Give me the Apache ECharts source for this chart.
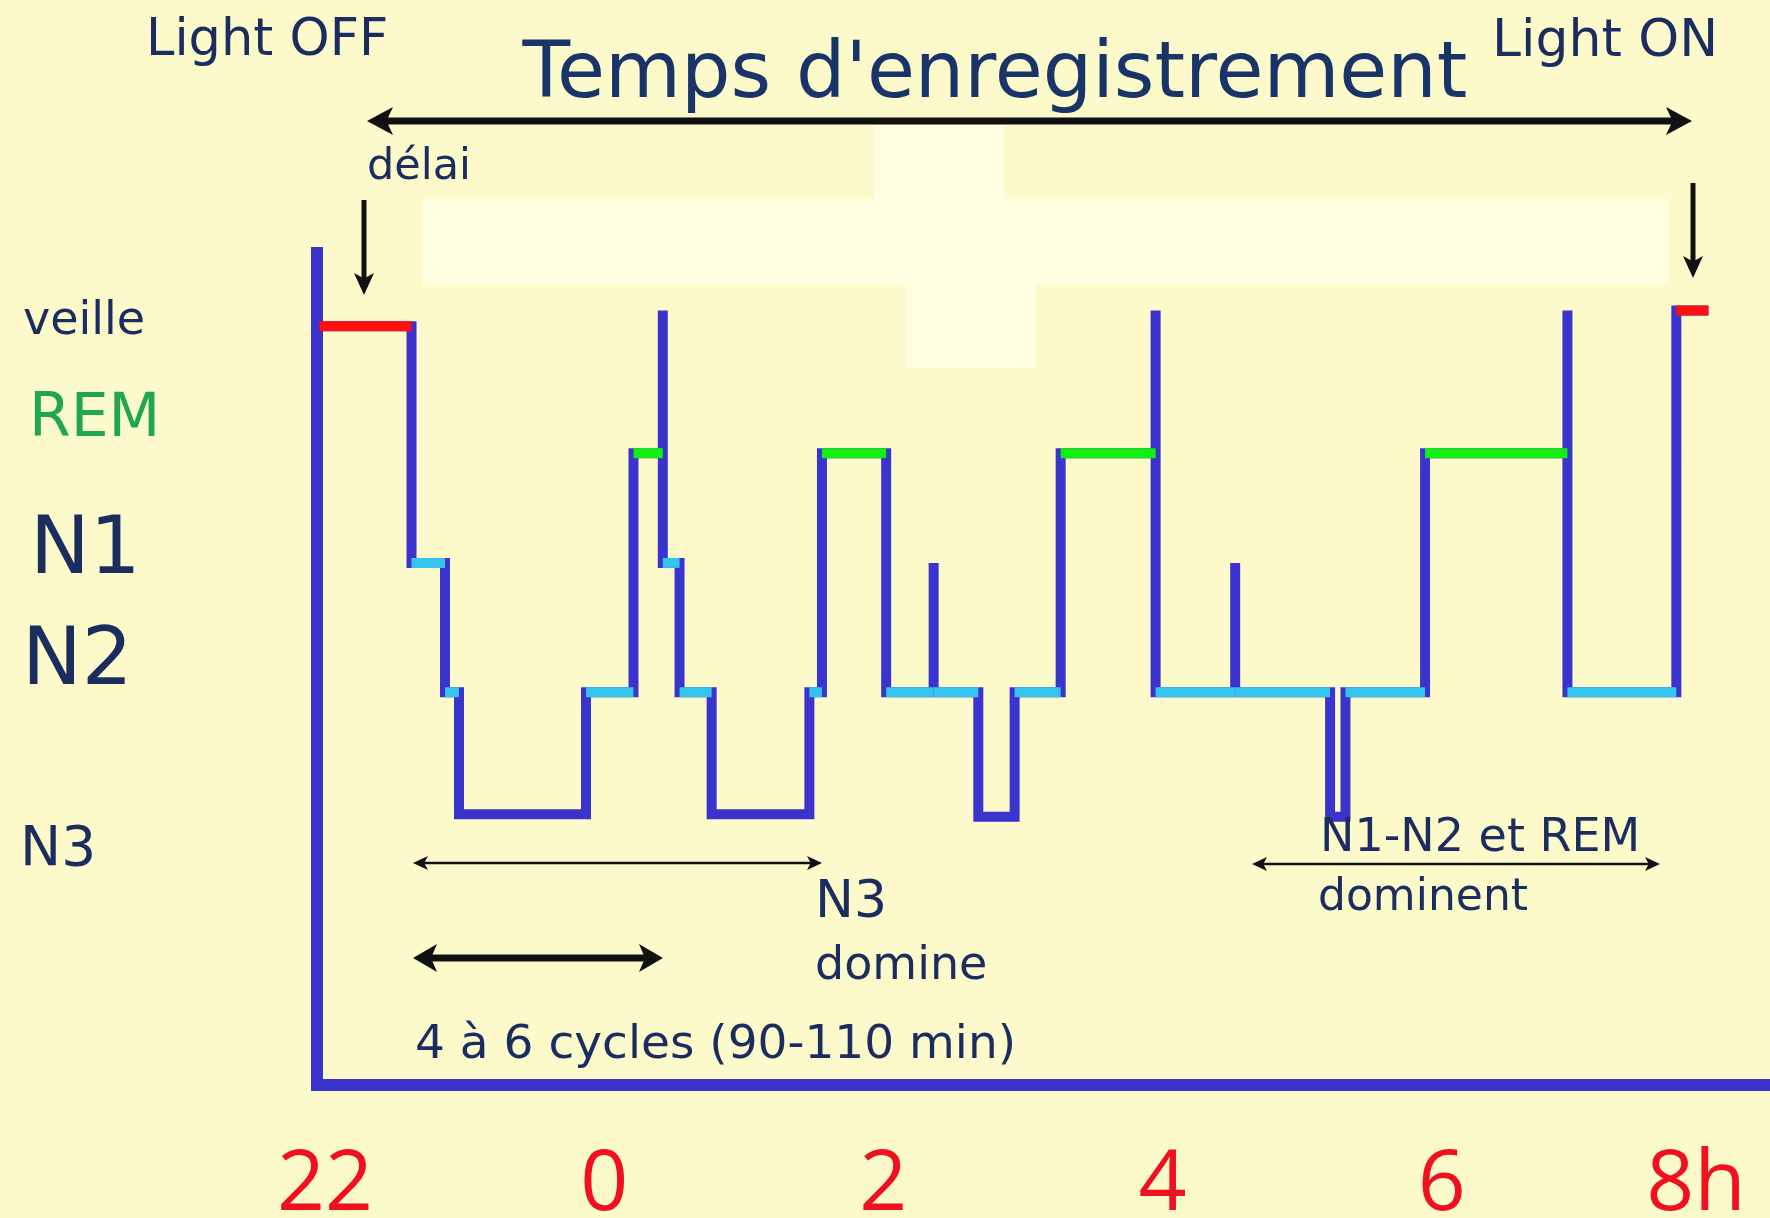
<!DOCTYPE html>
<html><head><meta charset="utf-8">
<script src="https://cdn.jsdelivr.net/npm/echarts@6/dist/echarts.min.js"></script>
<style>html,body{margin:0;padding:0;background:#fcfacb}#c{width:1770px;height:1218px}</style>
</head><body><div id="c"></div>
<script>
// x: clock hours (24 = 0h, 32 = 8h)
const hourTicks = [22, 24, 26, 28, 30, 32];
const hourLabels = ['22', '0', '2', '4', '6', '8h'];
// y: stage levels (N3 = 0, N2 = 1, N1 ≈ 2.06, REM ≈ 2.96, veille = 4; arousal spikes ≈ 4.13)
const stageNames = ['veille', 'REM', 'N1', 'N2', 'N3'];
const segBounds = [21.96, 22.62, 22.86, 22.96, 23.87, 24.21, 24.42, 24.42, 24.54, 24.77, 25.47, 25.56, 26.02, 26.36, 26.36, 26.68, 26.94, 27.27, 27.95, 27.95, 28.52, 28.52, 29.20, 29.31, 29.88, 30.90, 30.90, 31.68, 31.91];
const segStages = ['W','N1','N2','N3','N2','REM','W','N1','N2','N3','N2','REM','N2','N1','N2','N3','N2','REM','W','N2','N1','N2','N3','N2','REM','W','N2','W'];
const segLevels = [4.0, 2.06, 1.0, 0, 1.0, 2.96, 4.13, 2.06, 1.0, 0, 1.0, 2.96, 1.0, 2.06, 1.0, -0.02, 1.0, 2.96, 4.13, 1.0, 2.06, 1.0, -0.02, 1.0, 2.96, 4.13, 1.0, 4.13];

const BLUE = '#3a33cc';
const NAVY = '#1b2c5f';
const stageColors = { W: '#ff1010', REM: '#12ee12', N1: '#35c4f0', N2: '#35c4f0', N3: null };

const trace = [];
for (let i = 0; i < segStages.length; i++) {
  trace.push([segBounds[i], segLevels[i]]);
  trace.push([segBounds[i + 1], segLevels[i]]);
}
const overlays = [];
const overlayColors = [];
for (let i = 0; i < segStages.length; i++) {
  const c = stageColors[segStages[i]];
  if (c && segBounds[i + 1] > segBounds[i]) {
    overlays.push([segBounds[i], segBounds[i + 1], segLevels[i]]);
    overlayColors.push(c);
  }
}

function txt(text, x, y, size, opts) {
  opts = opts || {};
  return { type: 'text', x: x, y: y, z: 10, style: {
    text: text, fontSize: size, fontFamily: opts.font || 'DejaVu Sans', fill: opts.color || NAVY,
    align: opts.align || 'left', verticalAlign: 'middle' } };
}
function hArrow(x1, x2, y, lw, hl, hh) {
  return [
    { type: 'line', z: 10, shape: { x1: x1 + hl * 0.7, y1: y, x2: x2 - hl * 0.7, y2: y }, style: { stroke: '#111', lineWidth: lw } },
    { type: 'polygon', z: 10, shape: { points: [[x1, y], [x1 + hl, y - hh], [x1 + hl * 0.75, y], [x1 + hl, y + hh]] }, style: { fill: '#111' } },
    { type: 'polygon', z: 10, shape: { points: [[x2, y], [x2 - hl, y - hh], [x2 - hl * 0.75, y], [x2 - hl, y + hh]] }, style: { fill: '#111' } }
  ];
}
function vArrow(x, y1, y2, lw, hl, hh) {
  return [
    { type: 'line', z: 10, shape: { x1: x, y1: y1, x2: x, y2: y2 - hl * 0.7 }, style: { stroke: '#111', lineWidth: lw } },
    { type: 'polygon', z: 10, shape: { points: [[x, y2], [x - hh, y2 - hl], [x, y2 - hl * 0.75], [x + hh, y2 - hl]] }, style: { fill: '#111' } }
  ];
}

const graphics = [
  { type: 'rect', z: 1, shape: { x: 422, y: 199, width: 1247, height: 86 }, style: { fill: '#fffee0' } },
  { type: 'rect', z: 1, shape: { x: 874, y: 123, width: 130, height: 76 }, style: { fill: '#fffee0' } },
  { type: 'rect', z: 1, shape: { x: 906, y: 284, width: 130, height: 84 }, style: { fill: '#fffee0' } },
  txt('Light OFF', 146, 42, 51),
  txt('Light ON', 1492, 42, 52),
  txt("Temps d'enregistrement", 995, 77, 78, { align: 'center', color: '#183468' }),
  txt('délai', 367, 168, 43),
  txt(stageNames[0], 23, 322, 46),
  txt(stageNames[1], 29, 420, 60, { color: '#1fa64f' }),
  txt(stageNames[2], 30, 552, 80),
  txt(stageNames[3], 22, 663, 80),
  txt(stageNames[4], 20, 851, 55),
  txt('N3', 815, 903, 52),
  txt('domine', 815, 967, 46),
  txt('4 à 6 cycles (90-110 min)', 415, 1046, 47),
  txt('N1-N2 et REM', 1320, 839, 46),
  txt('dominent', 1318, 899, 44)
].concat(
  hArrow(367, 1692, 121, 7, 26, 14),
  hArrow(413, 822, 863, 2.5, 15, 7),
  hArrow(413, 663, 958, 7, 24, 14),
  hArrow(1252, 1660, 864, 2.5, 15, 7),
  vArrow(364, 200, 295, 5, 22, 10),
  vArrow(1693, 183, 278, 5, 22, 10)
);

const chart = echarts.init(document.getElementById('c'), null, { renderer: 'canvas' });
chart.setOption({
  backgroundColor: '#fcfacb',
  animation: false,
  grid: { left: 317, right: 0, top: 247, bottom: 133, containLabel: false, outerBoundsMode: 'none' },
  xAxis: {
    type: 'value', min: 21.943, max: 32.351,
    splitLine: { show: false }, axisTick: { show: false },
    axisLine: { show: true, onZero: false, lineStyle: { color: BLUE, width: 12, cap: 'square' } },
    axisLabel: {
      customValues: hourTicks,
      formatter: function (v) {
        const i = hourTicks.indexOf(Math.round(v));
        return i === hourTicks.length - 1 ? '{e|' + hourLabels[i] + '}' : hourLabels[i];
      },
      color: '#f01020', fontSize: 84, fontFamily: 'Open Sans', margin: 59,
      rich: { e: { color: '#f01020', fontSize: 84, fontFamily: 'Open Sans', padding: [0, 50, 0, 0] } }
    }
  },
  yAxis: {
    type: 'value', min: -2.22, max: 4.65,
    splitLine: { show: false }, axisTick: { show: false }, axisLabel: { show: false },
    axisLine: { show: true, onZero: false, lineStyle: { color: BLUE, width: 12, cap: 'butt' } }
  },
  series: [
    {
      type: 'line', data: trace, showSymbol: false, z: 2, clip: false,
      lineStyle: { color: BLUE, width: 10, join: 'miter', cap: 'butt' }
    },
    {
      type: 'custom', z: 3, clip: false,
      encode: { x: [0, 1], y: 2 },
      data: overlays,
      renderItem: function (params, api) {
        const p0 = api.coord([api.value(0), api.value(2)]);
        const p1 = api.coord([api.value(1), api.value(2)]);
        return { type: 'line', shape: { x1: p0[0], y1: p0[1], x2: p1[0], y2: p1[1] },
          style: { stroke: overlayColors[params.dataIndex], lineWidth: 10 } };
      }
    }
  ],
  graphic: graphics
});
</script></body></html>
